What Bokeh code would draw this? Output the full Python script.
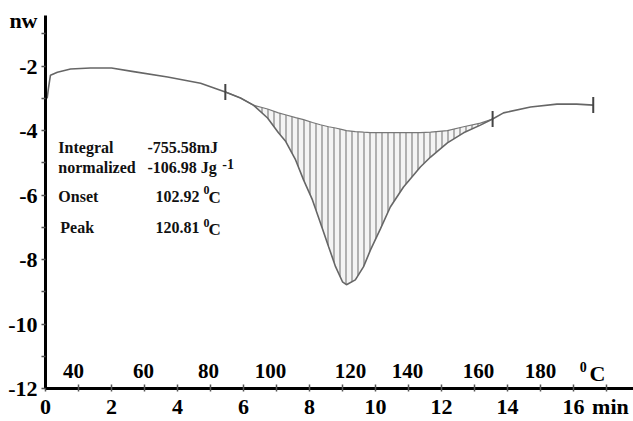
from bokeh.plotting import figure
from bokeh.models import Range1d, FixedTicker
from bokeh.core.properties import value
from bokeh.embed import file_html
from bokeh.resources import INLINE

# ---- data ----
curve_t = [0.05, 0.09, 0.15, 0.36, 0.76, 1.36, 2.0, 2.67, 3.7, 4.7,
           5.45, 5.91, 6.30, 6.73, 7.06, 7.27, 7.58, 7.82, 8.09, 8.33,
           8.58, 8.79, 9.00, 9.12, 9.39, 9.64, 9.85, 10.15, 10.45, 10.85,
           11.36, 11.67, 12.18, 12.67, 13.18, 13.55, 13.88, 14.7, 15.5, 16.1, 16.6]
curve_v = [-3.0, -2.68, -2.28, -2.19, -2.09, -2.06, -2.06, -2.17, -2.34, -2.53,
           -2.80, -2.99, -3.21, -3.61, -4.07, -4.32, -4.91, -5.53, -6.15, -6.86,
           -7.60, -8.22, -8.69, -8.78, -8.63, -8.22, -7.70, -7.05, -6.37, -5.75,
           -5.13, -4.82, -4.38, -4.07, -3.83, -3.64, -3.45, -3.27, -3.18, -3.18, -3.21]

# integration baseline under the peak (same times as curve points 10..35)
base_t = curve_t[10:36]
base_v = [-2.80, -2.99, -3.21, -3.33, -3.45, -3.51, -3.60, -3.66, -3.75, -3.82,
          -3.88, -3.92, -3.97, -4.00, -4.03, -4.05, -4.06, -4.06, -4.06, -4.06,
          -4.06, -4.05, -4.00, -3.88, -3.77, -3.64]
peak_v = curve_v[10:36]

# integration limit / end markers
limit_t = [5.45, 13.55, 16.6]
limit_v = [-2.80, -3.64, -3.21]

# axis ticks and labels (unit names sit in the tick-label rows, as in the reference)
x_ticks = [0, 2, 4, 6, 8, 10, 12, 14, 16, 17.12]
x_tick_labels = ["0", "2", "4", "6", "8", "10", "12", "14", "16", "min"]
x_marks = list(range(0, 18))
y_ticks = [-12, -10, -8, -6, -4, -2, -0.585]
y_tick_labels = ["-12", "-10", "-8", "-6", "-4", "-2", "nw"]
y_marks = list(range(-12, 0))

temp_labels = ["40", "60", "80", "100", "120", "140", "160", "180"]
temp_pos = [0.85, 2.97, 4.94, 6.82, 9.24, 10.97, 13.12, 15.0]

ann_names = ["Integral", "normalized", "Onset", "Peak"]
ann_values = ["-755.58mJ", "-106.98 Jg", "102.92", "120.81"]

FONT = "Liberation Serif"

p = figure(width=633, height=421, x_range=Range1d(0, 17.82), y_range=Range1d(-12, -0.43),
           output_backend="svg", toolbar_location=None,
           min_border_left=45, min_border_right=0, min_border_top=15, min_border_bottom=30)
p.outline_line_color = None
p.grid.visible = False
p.background_fill_color = "white"
p.border_fill_color = "white"

# axes: labels come from major ticks, all tick marks are drawn as minor ticks
for ax in (p.xaxis[0], p.yaxis[0]):
    ax.axis_line_width = 3
    ax.axis_line_color = "black"
    ax.major_tick_line_color = None
    ax.minor_tick_line_color = "#555555"
    ax.minor_tick_line_width = 1.5
    ax.major_label_text_font = FONT
    ax.major_label_text_font_style = "bold"
    ax.major_label_text_font_size = "22px"
    ax.major_label_text_color = "black"

p.xaxis.ticker = FixedTicker(ticks=x_ticks, minor_ticks=x_marks)
p.xaxis.major_label_overrides = dict(zip(x_ticks, x_tick_labels))
p.xaxis.major_tick_in = 0
p.xaxis.major_tick_out = 3
p.xaxis.minor_tick_in = 4
p.xaxis.minor_tick_out = 3
p.xaxis.major_label_standoff = 2

p.yaxis.ticker = FixedTicker(ticks=y_ticks, minor_ticks=y_marks)
p.yaxis.major_label_overrides = dict(zip(y_ticks, y_tick_labels))
p.yaxis.major_tick_in = 0
p.yaxis.major_tick_out = 5
p.yaxis.minor_tick_in = 0
p.yaxis.minor_tick_out = 4
p.yaxis.major_label_standoff = 3

# hatched peak area
p.varea(x=base_t, y1=peak_v, y2=base_v, fill_color="#f4f4f4",
        hatch_pattern="vertical_line", hatch_color="#8c8c8c", hatch_scale=6, hatch_weight=1.3)
p.line(base_t, base_v, line_color="#777777", line_width=1.2)

# main curve
p.line(curve_t, curve_v, line_color="#666666", line_width=1.6)

# limit markers
p.scatter(limit_t, limit_v, marker="dash", angle=1.5708, size=16,
          line_color="#444444", line_width=2)

# temperature scale labels
p.text(x=temp_pos, y=[-11.45] * len(temp_pos), text=temp_labels,
       text_font=value(FONT), text_font_style="bold", text_font_size="21px",
       text_align="center", text_baseline="middle", text_color="black")
p.text(x=[16.3], y=[-11.32], text=["0"], text_font=value(FONT), text_font_style="bold",
       text_font_size="14px", text_align="center", text_baseline="middle", text_color="black")
p.text(x=[16.73], y=[-11.54], text=["C"], text_font=value(FONT), text_font_style="bold",
       text_font_size="22px", text_align="center", text_baseline="middle", text_color="black")

# annotation block
name_x = [0.39, 0.39, 0.39, 0.45]
row_y = [-4.52, -5.14, -6.03, -7.02]
val_x = [3.09, 3.09, 3.33, 3.33]
p.text(x=name_x, y=row_y, text=ann_names, text_font=value(FONT), text_font_style="bold",
       text_font_size="16px", text_align="left", text_baseline="middle", text_color="#111111")
p.text(x=val_x, y=row_y, text=ann_values, text_font=value(FONT), text_font_style="bold",
       text_font_size="16px", text_align="left", text_baseline="middle", text_color="#111111")
p.text(x=[5.36], y=[-5.03], text=["-1"], text_font=value(FONT), text_font_style="bold",
       text_font_size="14px", text_align="left", text_baseline="middle", text_color="#111111")
p.text(x=[4.79, 4.79], y=[-5.85, -6.86], text=["0", "0"], text_font=value(FONT), text_font_style="bold",
       text_font_size="12px", text_align="left", text_baseline="middle", text_color="#111111")
p.text(x=[4.94, 4.94], y=[-6.09, -7.08], text=["C", "C"], text_font=value(FONT), text_font_style="bold",
       text_font_size="17px", text_align="left", text_baseline="middle", text_color="#111111")

open("out.html", "w").write(file_html(p, INLINE))
